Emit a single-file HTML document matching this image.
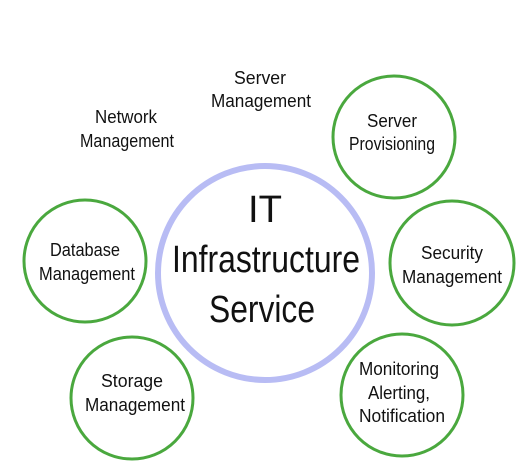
<!DOCTYPE html>
<html><head><meta charset="utf-8"><style>
html,body{margin:0;padding:0;background:#fff;}
svg{display:block}
text{font-family:"Liberation Sans",Arial,sans-serif;fill:#111;text-anchor:middle}
</style></head><body>
<svg width="524" height="474" viewBox="0 0 524 474" xmlns="http://www.w3.org/2000/svg">
<rect width="524" height="474" fill="#fff"/>
<circle cx="265" cy="273" r="107" fill="none" stroke="#b8bcf4" stroke-width="6"/>
<g fill="none" stroke="#4aa83e" stroke-width="3">
<circle cx="85" cy="261" r="61"/>
<circle cx="132" cy="398" r="61"/>
<circle cx="394" cy="137" r="61"/>
<circle cx="452" cy="263" r="62"/>
<circle cx="402" cy="395" r="61"/>
</g>
<text x="265" y="222" font-size="38" textLength="34" lengthAdjust="spacingAndGlyphs">IT</text>
<text x="266" y="272" font-size="38" textLength="188" lengthAdjust="spacingAndGlyphs">Infrastructure</text>
<text x="262" y="322" font-size="38" textLength="106" lengthAdjust="spacingAndGlyphs">Service</text>
<g font-size="18">
<text x="260" y="84" textLength="52" lengthAdjust="spacingAndGlyphs">Server</text>
<text x="261" y="107" textLength="100" lengthAdjust="spacingAndGlyphs">Management</text>
<text x="126" y="123" textLength="62" lengthAdjust="spacingAndGlyphs">Network</text>
<text x="127" y="147" textLength="94" lengthAdjust="spacingAndGlyphs">Management</text>
<text x="392" y="127" textLength="50" lengthAdjust="spacingAndGlyphs">Server</text>
<text x="392" y="150" textLength="86" lengthAdjust="spacingAndGlyphs">Provisioning</text>
<text x="85" y="256" textLength="70" lengthAdjust="spacingAndGlyphs">Database</text>
<text x="87" y="280" textLength="96" lengthAdjust="spacingAndGlyphs">Management</text>
<text x="452" y="259" textLength="62" lengthAdjust="spacingAndGlyphs">Security</text>
<text x="452" y="283" textLength="100" lengthAdjust="spacingAndGlyphs">Management</text>
<text x="132" y="387" textLength="62" lengthAdjust="spacingAndGlyphs">Storage</text>
<text x="135" y="411" textLength="100" lengthAdjust="spacingAndGlyphs">Management</text>
<text x="399" y="375" textLength="80" lengthAdjust="spacingAndGlyphs">Monitoring</text>
<text x="399" y="399" textLength="62" lengthAdjust="spacingAndGlyphs">Alerting,</text>
<text x="402" y="422" textLength="86" lengthAdjust="spacingAndGlyphs">Notification</text>
</g>
</svg>
</body></html>
